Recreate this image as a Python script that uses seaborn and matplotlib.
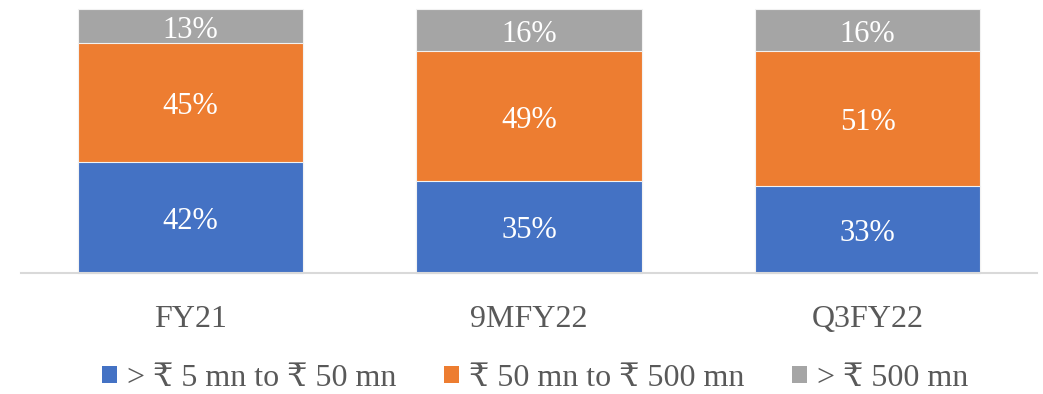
import matplotlib
matplotlib.use("Agg")
import matplotlib.pyplot as plt
import seaborn as sns
import pandas as pd
import numpy as np
from matplotlib.patches import Patch

# Share of book by ticket size
periods = ["FY21", "9MFY22", "Q3FY22"]
small = [42, 35, 33]      # > ₹ 5 mn to ₹ 50 mn
mid = [45, 49, 51]        # ₹ 50 mn to ₹ 500 mn
large = [13, 16, 16]      # > ₹ 500 mn
series_names = ["> ₹ 5 mn to ₹ 50 mn", "₹ 50 mn to ₹ 500 mn", "> ₹ 500 mn"]
colors = ["#4472C4", "#ED7D31", "#A5A5A5"]

sns.set_theme(style="white")
plt.rcParams["font.family"] = ["Liberation Serif", "DejaVu Serif", "DejaVu Sans"]

fig = plt.figure(figsize=(10.43, 3.94), dpi=100)
ax = fig.add_axes([21 / 1043, 121 / 394, 1016 / 1043, 264 / 394])

df = pd.DataFrame({"period": periods, "small": small, "mid": mid, "large": large})
df["top_mid"] = df["small"] + df["mid"]
df["top_all"] = df["top_mid"] + df["large"]

# Stack by drawing cumulative totals from tallest to shortest
for col, c in [("top_all", colors[2]), ("top_mid", colors[1]), ("small", colors[0])]:
    sns.barplot(data=df, x="period", y=col, color=c, width=0.665, saturation=1,
                edgecolor="#F2F2F2", linewidth=0.8, ax=ax, clip_on=False)

# Value labels at segment centres
for i in range(len(periods)):
    bottoms = [0, small[i], small[i] + mid[i]]
    vals = [small[i], mid[i], large[i]]
    for b, v in zip(bottoms, vals):
        ax.annotate(f"{v}%", (i, b + v / 2), xytext=(0, -3), textcoords="offset points",
                    ha="center", va="center", color="white", fontsize=22)

ax.set_xlim(-0.5, 2.5)
ax.set_ylim(0, 100)
ax.set_xlabel("")
ax.set_ylabel("")
ax.set_yticks([])
for s in ["top", "right", "left"]:
    ax.spines[s].set_visible(False)
ax.spines["bottom"].set_color("#D9D9D9")
ax.spines["bottom"].set_linewidth(1.5)
ax.tick_params(axis="x", length=0, pad=23, labelsize=23, labelcolor="#595959")

handles = [Patch(facecolor=c, edgecolor="none") for c in colors]
fig.legend(handles, series_names, loc="center", bbox_to_anchor=(0.513, 0.04),
           ncol=3, frameon=False, fontsize=23, labelcolor="#595959",
           handlelength=0.47, handleheight=0.47, handletextpad=0.3, columnspacing=1.5,
           borderaxespad=0, borderpad=0)

fig.savefig("out.png", dpi=100)
